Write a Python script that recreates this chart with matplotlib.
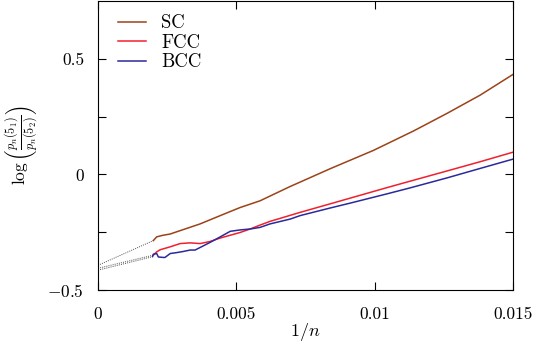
# Ratio of knot probabilities p_n(5_1)/p_n(5_2) against 1/n for three lattices
import matplotlib
matplotlib.use("Agg")
import matplotlib.pyplot as plt
from matplotlib.ticker import FixedLocator

plt.rcParams["font.family"] = "serif"
plt.rcParams["font.serif"] = ["cmr10", "DejaVu Serif"]
plt.rcParams["mathtext.fontset"] = "cm"
plt.rcParams["axes.formatter.use_mathtext"] = True

# data
sc_x = [0.00200, 0.00212, 0.00235, 0.00260, 0.00297, 0.00369, 0.00442, 0.00514,
        0.00586, 0.00695, 0.00731, 0.00840, 0.00996, 0.01141, 0.01262, 0.01382, 0.01500]
sc_y = [-0.286, -0.270, -0.263, -0.258, -0.243, -0.214, -0.178, -0.143,
        -0.114, -0.052, -0.033, 0.025, 0.104, 0.188, 0.264, 0.343, 0.432]

fcc_x = [0.00200, 0.00212, 0.00224, 0.00261, 0.00297, 0.00333, 0.00369, 0.00405,
         0.00442, 0.00514, 0.00550, 0.00586, 0.00622, 0.00731, 0.00840, 0.01045,
         0.01129, 0.01262, 0.01382, 0.01500]
fcc_y = [-0.349, -0.335, -0.326, -0.313, -0.299, -0.296, -0.299, -0.290,
         -0.275, -0.251, -0.236, -0.219, -0.203, -0.164, -0.127, -0.057,
         -0.029, 0.015, 0.055, 0.096]

bcc_x = [0.00197, 0.00200, 0.00212, 0.00218, 0.00236, 0.00242, 0.00261, 0.00285,
         0.00309, 0.00333, 0.00351, 0.00369, 0.00405, 0.00442, 0.00478, 0.00514,
         0.00550, 0.00586, 0.00622, 0.00695, 0.00731, 0.00840, 0.00912, 0.01045,
         0.01129, 0.01262, 0.01382, 0.01500]
bcc_y = [-0.355, -0.345, -0.342, -0.357, -0.359, -0.359, -0.342, -0.338,
         -0.333, -0.327, -0.327, -0.316, -0.294, -0.270, -0.246, -0.240,
         -0.236, -0.229, -0.214, -0.193, -0.178, -0.145, -0.124, -0.084,
         -0.058, -0.015, 0.026, 0.066]

# dotted extrapolations down to 1/n = 0
fit_x = [0.0, 0.0020]
fit_sc = [-0.393, -0.286]
fit_fcc = [-0.406, -0.349]
fit_bcc = [-0.414, -0.355]

fig = plt.figure(figsize=(5.33, 3.55), dpi=100)
ax = fig.add_axes([0.184, 0.183, 0.778, 0.814])

for fy in (fit_sc, fit_fcc, fit_bcc):
    ax.plot(fit_x, fy, color="#505050", lw=0.7, ls=(0, (1, 1.2)))

ax.plot(sc_x, sc_y, color="#9c4218", lw=1.1, label="SC")
ax.plot(fcc_x, fcc_y, color="#f0202e", lw=1.1, label="FCC")
ax.plot(bcc_x, bcc_y, color="#2a2a9c", lw=1.1, label="BCC")

ax.set_xlim(0, 0.015)
ax.set_ylim(-0.5, 0.75)
ax.xaxis.set_major_locator(FixedLocator([0, 0.005, 0.01, 0.015]))
ax.set_xticklabels(["0", "0.005", "0.01", "0.015"])
ax.yaxis.set_major_locator(FixedLocator([-0.5, 0, 0.5]))
ax.set_yticklabels([r"$-0.5$", "0", "0.5"])
ax.yaxis.set_minor_locator(FixedLocator([-0.25, 0.25]))
ax.tick_params(which="both", direction="in", top=True, right=True,
               length=6, width=0.8, labelsize=12.5, pad=10)
ax.tick_params(axis="x", pad=12)

ax.set_xlabel(r"$1/n$", fontsize=13, labelpad=-1)
ax.set_ylabel(r"$\log\left(\frac{p_n(5_1)}{p_n(5_2)}\right)$", fontsize=12.5, labelpad=5)

ax.legend(loc="upper left", bbox_to_anchor=(0.030, 0.980), frameon=False,
          fontsize=13.5, handlelength=1.5, handletextpad=0.8, labelspacing=0.08,
          borderaxespad=0.0, borderpad=0.4)

fig.savefig("out.png", dpi=100)
